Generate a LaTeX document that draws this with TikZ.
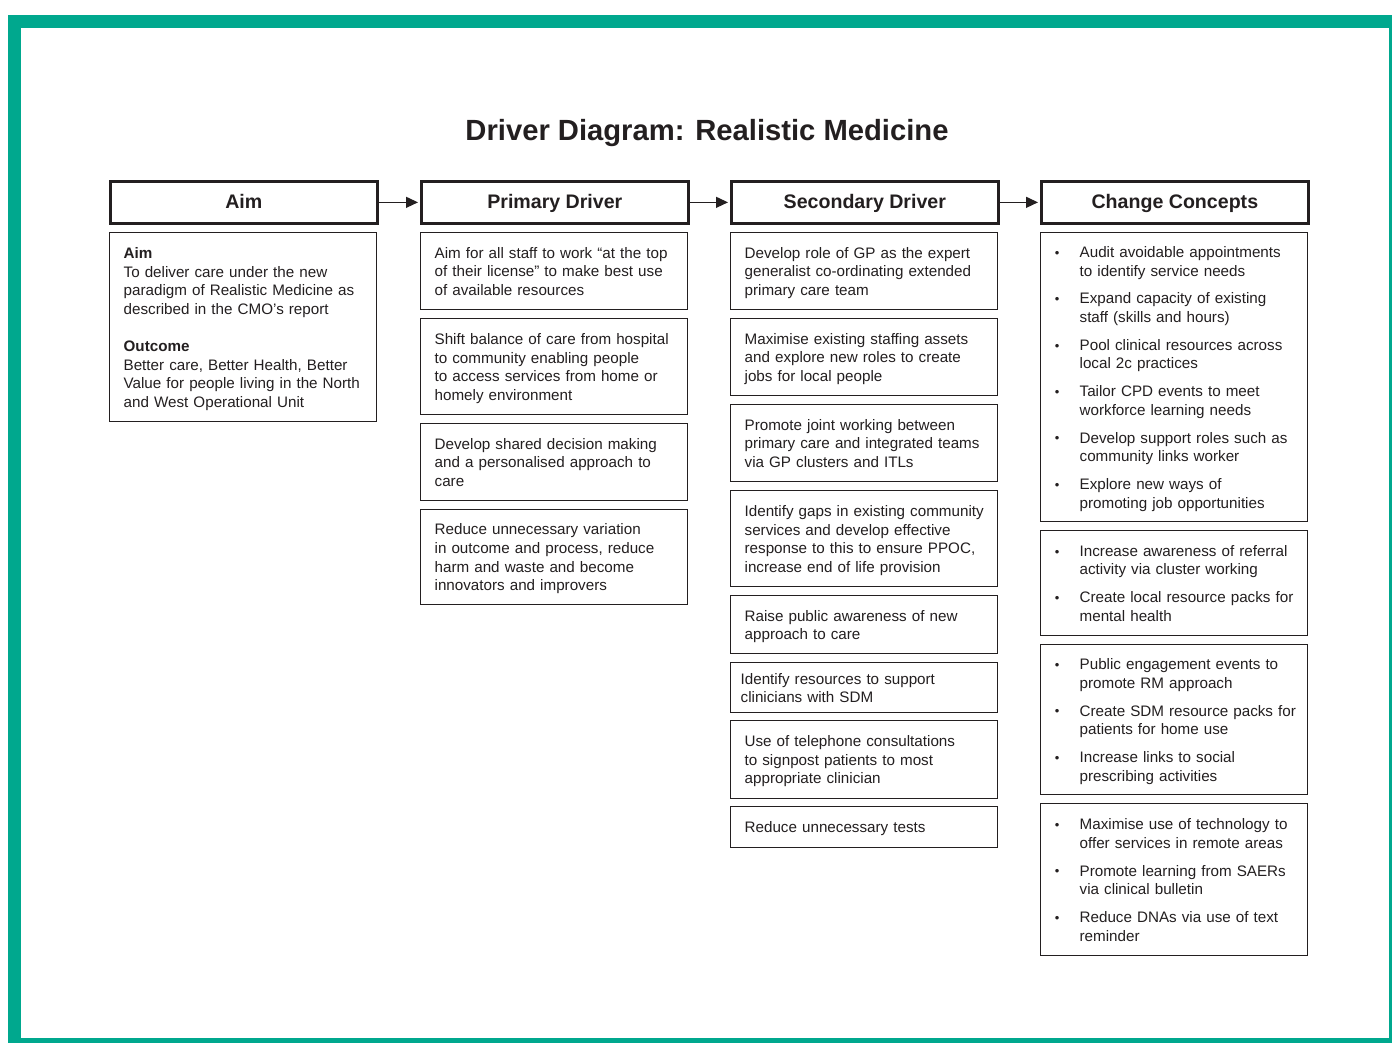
\documentclass[tikz,border=0pt]{standalone}
\usepackage{fontspec}
\setmainfont{Liberation Sans}
\usetikzlibrary{arrows.meta}
\definecolor{frame}{RGB}{0,168,142}
\definecolor{ink}{RGB}{35,31,32}
\newcommand{\bodyf}{\fontsize{15.2}{18.6}\selectfont}
\newcommand{\bul}{\makebox[25pt][l]{\hspace{0.3pt}\raisebox{0.3pt}{\fontsize{13}{13}\selectfont\textbullet}}}
\newcommand{\cclist}[1]{\raisebox{-2pt}[\height][\depth]{\begin{tabular}{@{}l@{}l@{}}#1\end{tabular}}}
\newcommand{\tlines}[1]{\raisebox{-2pt}[\height][\depth]{\begin{tabular}{@{}l@{}}#1\end{tabular}}}
\tikzset{
  hbox/.style={draw=ink, line width=2.7pt, minimum width=267pt, minimum height=42pt,
    anchor=north west, inner sep=0pt, text height=12pt, text depth=0pt, text=ink,
    font=\fontsize{19.6}{22}\selectfont\bfseries},
  cbox/.style={draw=ink, line width=1.3pt, minimum width=267pt, text width=239pt,
    inner xsep=14pt, inner ysep=0pt, align=left, anchor=north west, text=ink, font=\bodyf},
  arr/.style={draw=ink, line width=1.3pt, -{Triangle[length=12pt,width=11pt]}, shorten >=2pt},
}
\begin{document}
\begin{tikzpicture}[x=1pt,y=-1pt]
\useasboundingbox (0,0) rectangle (1392,1043);
\fill[white] (0,0) rectangle (1392,1043);
\fill[frame] (8,15) rectangle (1392,1043);
\fill[white] (21,28) rectangle (1389,1038);

\node[text=ink, font=\fontsize{29.2}{32}\selectfont\bfseries] (title) at (707,133) {Driver Diagram: Realistic Medicine};

% headers
\node[hbox] (aimh) at (109,180) {Aim};
\node[hbox] (pdh) at (420,180) {Primary Driver};
\node[hbox] (sdh) at (730,180) {Secondary Driver};
\node[hbox] (cch) at (1040,180) {Change Concepts};
\draw[arr] (aimh) -- (pdh);
\draw[arr] (pdh) -- (sdh);
\draw[arr] (sdh) -- (cch);

% aim
\node[cbox, minimum height=189pt] (aim) at (109,232) {\tlines{\textbf{Aim}\\To deliver care under the new\\paradigm of Realistic Medicine as\\described in the CMO’s report\\[18.5pt]\textbf{Outcome}\\Better care, Better Health, Better\\Value for people living in the North\\and West Operational Unit}};

% primary
\node[cbox, minimum height=77pt] (p1) at (420,232) {\tlines{Aim for all staff to work “at the top\\of their license” to make best use\\of available resources}};
\node[cbox, minimum height=96pt] (p2) at (420,318) {\tlines{Shift balance of care from hospital\\to community enabling people\\to access services from home or\\homely environment}};
\node[cbox, minimum height=77pt] (p3) at (420,423) {\tlines{Develop shared decision making\\and a personalised approach to\\care}};
\node[cbox, minimum height=95pt] (p4) at (420,509) {\tlines{Reduce unnecessary variation\\in outcome and process, reduce\\harm and waste and become\\innovators and improvers}};

% secondary
\node[cbox, minimum height=77pt] (s1) at (730,232) {\tlines{Develop role of GP as the expert\\generalist co-ordinating extended\\primary care team}};
\node[cbox, minimum height=77pt] (s2) at (730,318) {\tlines{Maximise existing staffing assets\\and explore new roles to create\\jobs for local people}};
\node[cbox, minimum height=77pt] (s3) at (730,404) {\tlines{Promote joint working between\\primary care and integrated teams\\via GP clusters and ITLs}};
\node[cbox, minimum height=96pt] (s4) at (730,490) {\tlines{Identify gaps in existing community\\services and develop effective\\response to this to ensure PPOC,\\increase end of life provision}};
\node[cbox, minimum height=58pt] (s5) at (730,595) {\tlines{Raise public awareness of new\\approach to care}};
\node[cbox, minimum height=50pt, inner xsep=10pt, text width=247pt] (s6) at (730,662) {\tlines{Identify resources to support\\clinicians with SDM}};
\node[cbox, minimum height=78pt] (s7) at (730,720) {\tlines{Use of telephone consultations\\to signpost patients to most\\appropriate clinician}};
\node[cbox, minimum height=41pt] (s8) at (730,806) {\tlines{Reduce unnecessary tests}};

% change concepts
\node[cbox, minimum height=289pt] (c1) at (1040,232) {\cclist{%
\bul & Audit avoidable appointments\\ & to identify service needs\\[9.2pt]
\bul & Expand capacity of existing\\ & staff (skills and hours)\\[9.2pt]
\bul & Pool clinical resources across\\ & local 2c practices\\[9.2pt]
\bul & Tailor CPD events to meet\\ & workforce learning needs\\[9.2pt]
\bul & Develop support roles such as\\ & community links worker\\[9.2pt]
\bul & Explore new ways of\\ & promoting job opportunities}};
\node[cbox, minimum height=105pt] (c2) at (1040,530) {\cclist{%
\bul & Increase awareness of referral\\ & activity via cluster working\\[9.2pt]
\bul & Create local resource packs for\\ & mental health}};
\node[cbox, minimum height=150pt] (c3) at (1040,644) {\cclist{%
\bul & Public engagement events to\\ & promote RM approach\\[9.2pt]
\bul & Create SDM resource packs for\\ & patients for home use\\[9.2pt]
\bul & Increase links to social\\ & prescribing activities}};
\node[cbox, minimum height=152pt] (c4) at (1040,803) {\cclist{%
\bul & Maximise use of technology to\\ & offer services in remote areas\\[9.2pt]
\bul & Promote learning from SAERs\\ & via clinical bulletin\\[9.2pt]
\bul & Reduce DNAs via use of text\\ & reminder}};
\end{tikzpicture}
\end{document}
